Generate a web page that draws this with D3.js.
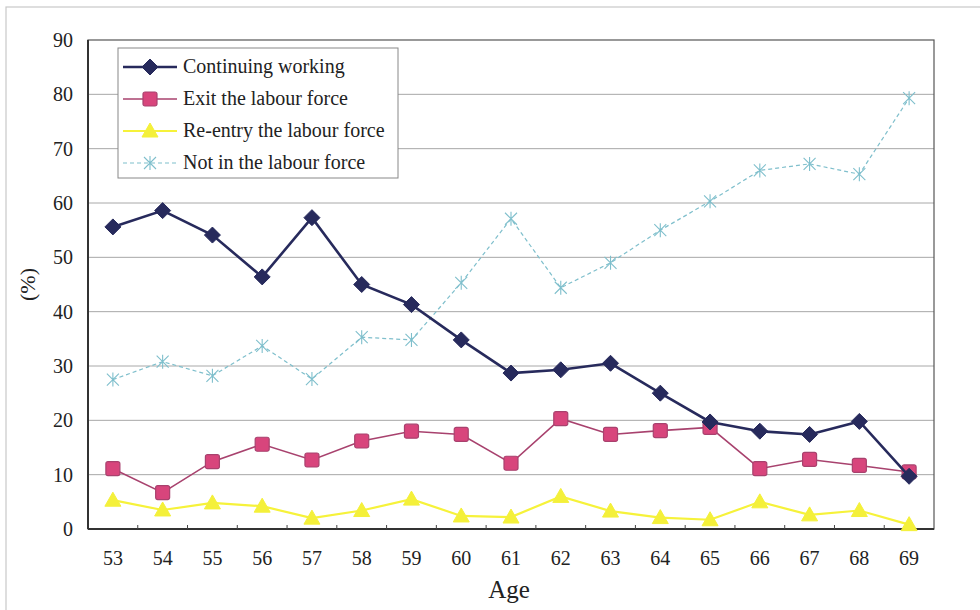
<!DOCTYPE html>
<html lang="en">
<head>
<meta charset="utf-8">
<title>Labour force status by age</title>
<script src="https://cdn.jsdelivr.net/npm/d3@7"></script>
<style>
    body { margin: 0; background: #fff; }
    text { font-family: "Liberation Serif", "DejaVu Serif", serif; fill: #222; }
    .grid line { stroke: #a8a8a8; stroke-width: 1; }
</style>
</head>
<body>
<div id="chart"></div>
<script>
    var ages = [53,54,55,56,57,58,59,60,61,62,63,64,65,66,67,68,69];
    var continuing = [55.6,58.6,54.1,46.4,57.3,45.0,41.3,34.8,28.7,29.3,30.5,25.0,19.7,18.0,17.4,19.8,9.7];
    var exitLF = [11.1,6.7,12.4,15.6,12.7,16.2,18.0,17.4,12.1,20.3,17.4,18.1,18.7,11.1,12.8,11.7,10.5];
    var reentry = [5.3,3.5,4.8,4.2,2.0,3.4,5.5,2.4,2.2,6.0,3.3,2.1,1.7,5.0,2.6,3.4,0.8];
    var notInLF = [27.5,30.8,28.2,33.7,27.6,35.3,34.8,45.3,57.1,44.4,49.0,55.0,60.3,66.0,67.2,65.3,79.3];
    var yTicks = [0,10,20,30,40,50,60,70,80,90];
    var seriesNames = ["Continuing working","Exit the labour force","Re-entry the labour force","Not in the labour force"];

    var W = 980, H = 610;
    var margin = {left: 88, right: 46, top: 40, bottom: 81};
    var w = W - margin.left - margin.right;
    var h = H - margin.top - margin.bottom;

    var svg = d3.select("#chart").append("svg")
        .attr("width", W).attr("height", H);

    // faint outer frame
    svg.append("rect")
        .attr("x", 6).attr("y", 7).attr("width", W + 10).attr("height", H + 10)
        .attr("fill", "none").attr("stroke", "#c8c8c8").attr("stroke-width", 1.2);

    var g = svg.append("g").attr("transform", "translate(" + margin.left + "," + margin.top + ")");

    var x = d3.scaleBand().domain(ages).range([0, w]);
    var y = d3.scaleLinear().domain([0, 90]).range([h, 0]);
    var cx = function(a) { return x(a) + x.bandwidth() / 2; };

    // gridlines
    g.append("g").attr("class", "grid")
        .selectAll("line").data(yTicks.slice(1, -1)).enter().append("line")
            .attr("x1", 0).attr("x2", w)
            .attr("y1", function(d) { return y(d); })
            .attr("y2", function(d) { return y(d); });

    // plot frame
    g.append("rect").attr("width", w).attr("height", h)
        .attr("fill", "none").attr("stroke", "#555").attr("stroke-width", 1.2);
    g.append("line").attr("x1", 0).attr("x2", w).attr("y1", h).attr("y2", h)
        .attr("stroke", "#333").attr("stroke-width", 2);
    g.append("line").attr("x1", 0).attr("x2", 0).attr("y1", 0).attr("y2", h)
        .attr("stroke", "#333").attr("stroke-width", 2);

    // y axis
    var yAxis = g.append("g").call(d3.axisLeft(y).tickValues(yTicks).tickSize(0).tickPadding(15));
    yAxis.select(".domain").remove();
    yAxis.selectAll("text").style("font-size", "20px");

    // x axis
    var xAxis = g.append("g").attr("transform", "translate(0," + h + ")")
        .call(d3.axisBottom(x).tickSize(0).tickPadding(22));
    xAxis.select(".domain").remove();
    xAxis.selectAll("text").style("font-size", "20px");
    g.selectAll(".xtick").data(ages.slice(1)).enter().append("line")
        .attr("x1", function(d) { return x(d); }).attr("x2", function(d) { return x(d); })
        .attr("y1", h).attr("y2", h - 4).attr("stroke", "#444");

    svg.append("text").attr("x", margin.left + w / 2 - 2).attr("y", 598)
        .attr("text-anchor", "middle").style("font-size", "25px").text("Age");
    svg.append("text").attr("transform", "translate(35," + (margin.top + h / 2) + ") rotate(-90)")
        .attr("text-anchor", "middle").style("font-size", "22px").text("(%)");

    var series = [
        {name: seriesNames[0], values: continuing, stroke: "#272a5c", width: 2.6, dash: null, marker: "diamond", fill: "#272a5c"},
        {name: seriesNames[1], values: exitLF, stroke: "#a8426e", width: 1.6, dash: null, marker: "square", fill: "#d8457c"},
        {name: seriesNames[2], values: reentry, stroke: "#f6f23a", width: 2.2, dash: null, marker: "triangle", fill: "#f4f03a"},
        {name: seriesNames[3], values: notInLF, stroke: "#7fbfcc", width: 1.2, dash: "4,3", marker: "star", fill: "none"}
    ];

    function drawMarker(sel, s) {
        if (s.marker === "diamond") {
            sel.append("path").attr("d", "M0,-8L8,0L0,8L-8,0Z")
                .attr("fill", s.fill).attr("stroke", s.fill).attr("stroke-linejoin", "round");
        } else if (s.marker === "square") {
            sel.append("rect").attr("x", -7).attr("y", -7).attr("width", 14).attr("height", 14).attr("rx", 2)
                .attr("fill", s.fill).attr("stroke", "#a8426e").attr("stroke-width", 1.2);
        } else if (s.marker === "triangle") {
            sel.append("path").attr("d", "M0,-8L8,6L-8,6Z")
                .attr("fill", s.fill).attr("stroke", s.fill);
        } else {
            sel.append("path").attr("d", "M-6,-6L6,6M-6,6L6,-6M0,-7L0,7")
                .attr("stroke", s.stroke).attr("stroke-width", 1.1).attr("fill", "none");
        }
    }

    var line = d3.line().x(function(d, i) { return cx(ages[i]); }).y(function(d) { return y(d); });

    // draw order: back to front
    [3, 2, 1, 0].forEach(function(k) {
        var s = series[k];
        g.append("path").datum(s.values).attr("d", line)
            .attr("fill", "none").attr("stroke", s.stroke).attr("stroke-width", s.width)
            .attr("stroke-dasharray", s.dash);
        g.selectAll(".m" + k).data(s.values).enter().append("g")
            .attr("class", "m" + k)
            .attr("transform", function(d, i) { return "translate(" + cx(ages[i]) + "," + y(d) + ")"; })
            .each(function() { drawMarker(d3.select(this), s); });
    });

    // legend
    var leg = svg.append("g").attr("transform", "translate(118,48)");
    leg.append("rect").attr("width", 280).attr("height", 130)
        .attr("fill", "#fff").attr("stroke", "#888").attr("stroke-width", 1);
    series.forEach(function(s, i) {
        var ly = 19 + i * 32;
        var row = leg.append("g").attr("transform", "translate(0," + ly + ")");
        row.append("line").attr("x1", 5).attr("x2", 59).attr("y1", 0).attr("y2", 0)
            .attr("stroke", s.stroke).attr("stroke-width", s.width).attr("stroke-dasharray", s.dash);
        drawMarker(row.append("g").attr("transform", "translate(32,0)"), s);
        row.append("text").attr("x", 65).attr("y", 6).style("font-size", "20px").text(s.name);
    });
</script>
</body>
</html>
